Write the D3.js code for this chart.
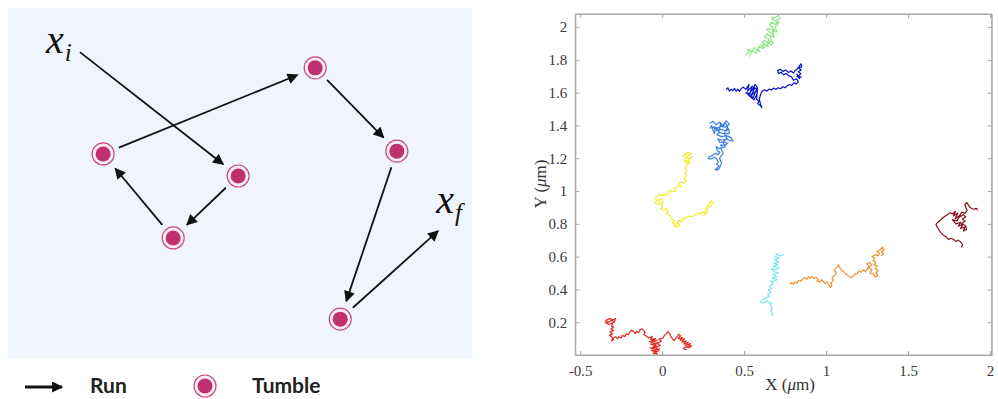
<!DOCTYPE html>
<html>
<head>
<meta charset="utf-8">
<script src="https://cdn.jsdelivr.net/npm/d3@7/dist/d3.min.js"></script>
<style>
  html, body { margin: 0; padding: 0; background: #ffffff; }
  svg { display: block; }
</style>
</head>
<body>
<svg id="fig" width="998" height="399"></svg>
<script>
// ---------- Run-and-tumble schematic (panel-relative units 0..1) ----------
const runStart = [0.155, 0.126];
const tumbleX = [0.496, 0.356, 0.205, 0.662, 0.838, 0.716];
const tumbleY = [0.480, 0.657, 0.417, 0.171, 0.409, 0.889];
const runEnd = [0.927, 0.637];
const pathLabels = [
  { base: "x", sub: "i", at: [0.082, 0.129] },
  { base: "x", sub: "f", at: [0.923, 0.586] }
];
const legendItems = ["Run", "Tumble"];

// ---------- Brownian trajectories, X/Y in µm ----------
const xTicks = [-0.5, 0, 0.5, 1, 1.5, 2];
const xTickLabels = ["-0.5", "0", "0.5", "1", "1.5", "2"];
const yTicks = [0.2, 0.4, 0.6, 0.8, 1, 1.2, 1.4, 1.6, 1.8, 2];
const yTickLabels = ["0.2", "0.4", "0.6", "0.8", "1", "1.2", "1.4", "1.6", "1.8", "2"];

const trackRed = [[-0.33,0.20],[-0.345,0.21],[-0.32,0.222],[-0.30,0.214],[-0.285,0.222],[-0.292,0.2],[-0.31,0.212],[-0.335,0.194],[-0.348,0.2],[-0.326,0.186],[-0.30,0.196],[-0.31,0.176],[-0.296,0.17],[-0.312,0.158],[-0.296,0.15],[-0.318,0.14],[-0.302,0.128],[-0.322,0.12],[-0.306,0.108],[-0.296,0.094],[-0.31,0.086],[-0.3,0.1],[-0.284,0.112],[-0.272,0.1],[-0.262,0.112],[-0.25,0.104],[-0.242,0.12],[-0.228,0.112],[-0.22,0.13],[-0.206,0.124],[-0.198,0.14],[-0.186,0.152],[-0.174,0.142],[-0.164,0.13],[-0.156,0.144],[-0.144,0.136],[-0.136,0.152],[-0.124,0.16],[-0.112,0.15],[-0.104,0.136],[-0.112,0.124],[-0.098,0.116],[-0.085,0.105],[-0.06,0.112],[-0.072,0.096],[-0.04,0.1],[-0.066,0.088],[-0.03,0.09],[-0.058,0.078],[-0.078,0.082],[-0.05,0.07],[-0.02,0.076],[-0.046,0.062],[-0.07,0.066],[-0.034,0.056],[-0.058,0.048],[-0.024,0.05],[-0.05,0.04],[-0.074,0.044],[-0.04,0.032],[-0.016,0.038],[-0.048,0.024],[-0.066,0.03],[-0.036,0.016],[-0.056,0.01],[-0.028,0.006],[-0.044,0.018],[-0.02,0.026],[-0.038,0.044],[-0.012,0.06],[-0.03,0.07],[-0.004,0.084],[-0.02,0.098],[0.004,0.102],[0.012,0.118],[0.026,0.13],[0.036,0.142],[0.046,0.13],[0.052,0.114],[0.062,0.1],[0.072,0.088],[0.09,0.11],[0.1,0.126],[0.112,0.118],[0.098,0.1],[0.124,0.106],[0.11,0.09],[0.136,0.098],[0.12,0.078],[0.146,0.086],[0.132,0.066],[0.16,0.078],[0.142,0.058],[0.172,0.07],[0.156,0.054],[0.18,0.058],[0.164,0.044],[0.144,0.05],[0.128,0.038],[0.15,0.032]];

const trackYellow = [[0.15,1.225],[0.126,1.212],[0.158,1.24],[0.176,1.228],[0.14,1.204],[0.168,1.196],[0.182,1.212],[0.16,1.182],[0.132,1.19],[0.146,1.17],[0.17,1.176],[0.15,1.156],[0.138,1.14],[0.152,1.124],[0.136,1.108],[0.148,1.09],[0.132,1.078],[0.146,1.062],[0.13,1.048],[0.112,1.056],[0.1,1.04],[0.118,1.032],[0.09,1.026],[0.072,1.018],[0.082,1.0],[0.06,0.996],[0.046,1.006],[0.04,0.984],[0.022,0.978],[0.006,0.972],[-0.012,0.978],[-0.03,0.97],[-0.042,0.956],[-0.03,0.942],[-0.044,0.93],[-0.028,0.918],[-0.012,0.93],[-0.022,0.946],[-0.006,0.952],[0.004,0.936],[-0.008,0.918],[0.004,0.904],[-0.01,0.892],[0.008,0.884],[0.024,0.892],[0.036,0.878],[0.026,0.862],[0.042,0.854],[0.052,0.84],[0.062,0.826],[0.076,0.818],[0.062,0.806],[0.084,0.796],[0.07,0.786],[0.094,0.782],[0.108,0.796],[0.088,0.808],[0.104,0.82],[0.118,0.812],[0.128,0.83],[0.146,0.838],[0.164,0.848],[0.182,0.844],[0.2,0.856],[0.218,0.866],[0.232,0.858],[0.244,0.872],[0.26,0.866],[0.272,0.878],[0.282,0.898],[0.296,0.91],[0.31,0.926],[0.3,0.94],[0.286,0.922],[0.272,0.906],[0.264,0.888],[0.276,0.872],[0.262,0.858],[0.252,0.848]];

const trackSky = [[0.29,1.412],[0.31,1.426],[0.33,1.404],[0.35,1.42],[0.37,1.4],[0.39,1.428],[0.41,1.41],[0.39,1.39],[0.36,1.396],[0.34,1.384],[0.31,1.392],[0.33,1.37],[0.36,1.376],[0.39,1.366],[0.405,1.38],[0.41,1.352],[0.38,1.348],[0.35,1.358],[0.334,1.344],[0.36,1.332],[0.39,1.338],[0.42,1.326],[0.432,1.304],[0.41,1.31],[0.386,1.316],[0.36,1.31],[0.34,1.318],[0.352,1.296],[0.378,1.3],[0.4,1.29],[0.38,1.278],[0.356,1.282],[0.368,1.264],[0.344,1.26],[0.33,1.272],[0.336,1.248],[0.352,1.236],[0.34,1.222],[0.322,1.23],[0.306,1.216],[0.288,1.21],[0.28,1.198],[0.3,1.196],[0.318,1.206],[0.334,1.194],[0.342,1.176],[0.332,1.164],[0.346,1.152],[0.336,1.14],[0.322,1.132],[0.338,1.128],[0.35,1.142],[0.362,1.17],[0.35,1.2],[0.372,1.23],[0.358,1.26],[0.384,1.27],[0.37,1.3],[0.396,1.32],[0.378,1.35],[0.4,1.39],[0.384,1.42],[0.372,1.39],[0.356,1.41],[0.346,1.36],[0.324,1.39],[0.318,1.35],[0.3,1.4],[0.292,1.38]];

const trackBlue = [[0.39,1.618],[0.4,1.63],[0.41,1.61],[0.42,1.622],[0.432,1.612],[0.44,1.626],[0.452,1.61],[0.462,1.622],[0.472,1.608],[0.482,1.624],[0.494,1.634],[0.51,1.62],[0.53,1.65],[0.52,1.61],[0.55,1.64],[0.535,1.6],[0.565,1.632],[0.548,1.59],[0.512,1.6],[0.54,1.578],[0.57,1.61],[0.556,1.57],[0.526,1.586],[0.56,1.556],[0.58,1.596],[0.574,1.626],[0.55,1.62],[0.566,1.65],[0.582,1.63],[0.576,1.56],[0.59,1.548],[0.582,1.534],[0.598,1.522],[0.608,1.508],[0.6,1.53],[0.592,1.56],[0.6,1.59],[0.61,1.61],[0.624,1.618],[0.638,1.61],[0.652,1.622],[0.666,1.616],[0.68,1.628],[0.694,1.62],[0.708,1.63],[0.722,1.624],[0.736,1.636],[0.75,1.63],[0.762,1.642],[0.776,1.65],[0.79,1.644],[0.804,1.66],[0.818,1.654],[0.83,1.666],[0.82,1.684],[0.8,1.676],[0.79,1.696],[0.77,1.704],[0.76,1.716],[0.74,1.71],[0.726,1.724],[0.71,1.718],[0.704,1.736],[0.72,1.742],[0.738,1.73],[0.752,1.738],[0.77,1.724],[0.786,1.732],[0.8,1.72],[0.812,1.736],[0.826,1.746],[0.836,1.762],[0.846,1.776],[0.852,1.758],[0.834,1.75],[0.848,1.738],[0.83,1.728],[0.846,1.716],[0.832,1.704],[0.848,1.694],[0.822,1.7],[0.838,1.686],[0.82,1.716]];

const trackGreen = [[0.51,1.83],[0.53,1.85],[0.52,1.866],[0.548,1.852],[0.56,1.876],[0.58,1.856],[0.596,1.852],[0.584,1.872],[0.6,1.89],[0.62,1.872],[0.632,1.89],[0.61,1.904],[0.626,1.92],[0.65,1.9],[0.666,1.918],[0.678,1.904],[0.664,1.89],[0.646,1.93],[0.624,1.94],[0.64,1.958],[0.668,1.94],[0.676,1.958],[0.652,1.972],[0.638,1.988],[0.664,1.99],[0.686,1.978],[0.676,2.0],[0.654,2.012],[0.666,2.03],[0.69,2.016],[0.704,2.03],[0.68,2.044],[0.668,2.06],[0.692,2.058],[0.71,2.072],[0.718,2.05],[0.7,2.044],[0.712,2.028],[0.69,2.0],[0.7,1.97],[0.672,1.976],[0.684,1.94],[0.656,1.95],[0.668,1.912],[0.64,1.91],[0.648,1.88],[0.62,1.9],[0.612,1.87],[0.59,1.88],[0.57,1.84],[0.55,1.86],[0.53,1.82]];

const trackCyan = [[0.745,0.614],[0.72,0.604],[0.7,0.616],[0.69,0.598],[0.712,0.592],[0.686,0.58],[0.71,0.568],[0.68,0.56],[0.706,0.55],[0.676,0.54],[0.714,0.532],[0.69,0.52],[0.666,0.528],[0.684,0.508],[0.71,0.5],[0.676,0.49],[0.7,0.478],[0.67,0.468],[0.702,0.46],[0.68,0.448],[0.66,0.452],[0.676,0.434],[0.656,0.42],[0.668,0.404],[0.648,0.396],[0.662,0.382],[0.644,0.37],[0.656,0.356],[0.634,0.35],[0.612,0.336],[0.6,0.324],[0.62,0.318],[0.64,0.33],[0.652,0.316],[0.668,0.322],[0.66,0.3],[0.672,0.284],[0.662,0.27],[0.674,0.256],[0.668,0.238]];

const trackOrange = [[0.78,0.43],[0.79,0.442],[0.802,0.432],[0.81,0.446],[0.824,0.44],[0.83,0.456],[0.846,0.45],[0.856,0.462],[0.87,0.472],[0.884,0.462],[0.892,0.478],[0.904,0.468],[0.914,0.48],[0.926,0.466],[0.94,0.474],[0.952,0.46],[0.944,0.45],[0.962,0.446],[0.97,0.46],[0.984,0.448],[0.994,0.436],[1.004,0.448],[1.014,0.43],[1.026,0.412],[1.036,0.426],[1.028,0.44],[1.044,0.454],[1.036,0.47],[1.052,0.486],[1.062,0.502],[1.05,0.518],[1.064,0.534],[1.076,0.55],[1.084,0.532],[1.096,0.516],[1.11,0.506],[1.122,0.492],[1.136,0.484],[1.15,0.472],[1.164,0.478],[1.174,0.492],[1.19,0.498],[1.2,0.514],[1.214,0.504],[1.228,0.52],[1.24,0.508],[1.25,0.524],[1.262,0.54],[1.248,0.556],[1.268,0.566],[1.276,0.55],[1.26,0.53],[1.28,0.52],[1.268,0.5],[1.29,0.492],[1.3,0.476],[1.316,0.484],[1.304,0.5],[1.318,0.514],[1.3,0.526],[1.312,0.542],[1.292,0.55],[1.304,0.566],[1.286,0.576],[1.296,0.592],[1.28,0.6],[1.298,0.612],[1.316,0.606],[1.326,0.622],[1.31,0.632],[1.33,0.642],[1.344,0.658],[1.354,0.64],[1.336,0.63],[1.352,0.618],[1.334,0.606]];

const trackMaroon = [[1.826,0.656],[1.832,0.674],[1.82,0.69],[1.806,0.7],[1.792,0.692],[1.778,0.704],[1.762,0.712],[1.748,0.704],[1.736,0.718],[1.722,0.726],[1.71,0.736],[1.698,0.748],[1.688,0.764],[1.678,0.78],[1.67,0.796],[1.682,0.81],[1.696,0.822],[1.71,0.834],[1.724,0.846],[1.74,0.856],[1.756,0.868],[1.77,0.86],[1.79,0.876],[1.776,0.848],[1.804,0.866],[1.786,0.83],[1.816,0.852],[1.798,0.818],[1.77,0.824],[1.792,0.8],[1.822,0.81],[1.806,0.786],[1.834,0.796],[1.82,0.772],[1.846,0.78],[1.838,0.756],[1.856,0.766],[1.85,0.79],[1.826,0.8],[1.848,0.816],[1.83,0.83],[1.852,0.842],[1.836,0.856],[1.812,0.84],[1.826,0.872],[1.846,0.864],[1.86,0.882],[1.852,0.9],[1.846,0.918],[1.858,0.93],[1.868,0.916],[1.878,0.9],[1.892,0.892],[1.904,0.89],[1.918,0.894],[1.924,0.884]];

const tracks = [
  { pts: trackRed, color: "#e52a22" },
  { pts: trackYellow, color: "#f2ec2c" },
  { pts: trackSky, color: "#3d7fe0" },
  { pts: trackBlue, color: "#0a12c8" },
  { pts: trackGreen, color: "#8fe884" },
  { pts: trackCyan, color: "#7ae6ef" },
  { pts: trackOrange, color: "#ef912f" },
  { pts: trackMaroon, color: "#85131a" }
];

const svg = d3.select("#fig");

// ===== Left: schematic =====
const sx = d3.scaleLinear().domain([0, 1]).range([8, 472]);
const sy = d3.scaleLinear().domain([0, 1]).range([8, 358]);
const left = svg.append("g");

left.append("rect")
  .attr("x", sx(0)).attr("y", sy(0))
  .attr("width", sx(1) - sx(0)).attr("height", sy(1) - sy(0))
  .attr("fill", "#eff5fb");

const defs = svg.append("defs");
defs.append("marker")
  .attr("id", "head")
  .attr("viewBox", "0 0 10 10")
  .attr("refX", 9).attr("refY", 5)
  .attr("markerUnits", "userSpaceOnUse")
  .attr("markerWidth", 12).attr("markerHeight", 11)
  .attr("orient", "auto")
  .append("path").attr("d", "M0,0 L10,5 L0,10 Z").attr("fill", "#111");

const pts = [runStart].concat(tumbleX.map((x, i) => [x, tumbleY[i]])).concat([runEnd]);
const pix = pts.map(p => [sx(p[0]), sy(p[1])]);
const gapStart = (i) => (i === 0 ? 0 : 17);
const gapEnd = (i) => (i === pix.length - 1 ? 0 : 19);
for (let i = 0; i < pix.length - 1; i++) {
  const [x0, y0] = pix[i], [x1, y1] = pix[i + 1];
  const dx = x1 - x0, dy = y1 - y0, len = Math.hypot(dx, dy);
  const ux = dx / len, uy = dy / len;
  left.append("line")
    .attr("x1", x0 + ux * gapStart(i)).attr("y1", y0 + uy * gapStart(i))
    .attr("x2", x1 - ux * gapEnd(i + 1)).attr("y2", y1 - uy * gapEnd(i + 1))
    .attr("stroke", "#111").attr("stroke-width", 1.8)
    .attr("marker-end", "url(#head)");
}

function tumble(g, x, y) {
  g.append("circle").attr("cx", x).attr("cy", y).attr("r", 11)
    .attr("fill", "#fbeef4").attr("stroke", "#c94a84").attr("stroke-width", 1.2);
  g.append("circle").attr("cx", x).attr("cy", y).attr("r", 7.5)
    .attr("fill", "#c0306e");
}
tumbleX.forEach((x, i) => tumble(left, sx(x), sy(tumbleY[i])));

pathLabels.forEach(l => {
  const t = left.append("text")
    .attr("x", sx(l.at[0])).attr("y", sy(l.at[1]))
    .attr("font-family", "'Liberation Serif', 'DejaVu Serif', serif")
    .attr("font-style", "italic").attr("font-size", 40).attr("fill", "#111");
  t.append("tspan").text(l.base);
  t.append("tspan").attr("dy", 8).attr("dx", 1).attr("font-size", 25).text(l.sub);
});

// legend
left.append("line")
  .attr("x1", 25).attr("y1", 387).attr("x2", 62).attr("y2", 387)
  .attr("stroke", "#111").attr("stroke-width", 3)
  .attr("marker-end", "url(#head)");
left.append("text").attr("x", 90).attr("y", 393)
  .attr("font-family", "Lato, 'Open Sans', sans-serif").attr("font-weight", 700)
  .attr("font-size", 21).attr("fill", "#222").text(legendItems[0]);
tumble(left, 205, 386);
left.append("text").attr("x", 252).attr("y", 393)
  .attr("font-family", "Lato, 'Open Sans', sans-serif").attr("font-weight", 700)
  .attr("font-size", 21).attr("fill", "#222").text(legendItems[1]);

// ===== Right: trajectories =====
const x = d3.scaleLinear().domain([-0.53, 2.01]).range([575.3, 991.7]);
const y = d3.scaleLinear().domain([0, 2.08]).range([355, 14]);
const right = svg.append("g");

defs.append("clipPath").attr("id", "plotclip")
  .append("rect").attr("x", x(-0.53)).attr("y", y(2.08))
  .attr("width", x(2.01) - x(-0.53)).attr("height", y(0) - y(2.08));

const line = d3.line().x(d => x(d[0])).y(d => y(d[1]));
const tg = right.append("g").attr("clip-path", "url(#plotclip)");
tracks.forEach(t => {
  tg.append("path").attr("d", line(t.pts))
    .attr("fill", "none").attr("stroke", t.color)
    .attr("stroke-width", 1.2).attr("stroke-linejoin", "round");
});

const axisColor = "#a6a6a6";
const tickFont = "'Liberation Serif', 'Times New Roman', serif";

// frame
right.append("rect")
  .attr("x", x(-0.53)).attr("y", y(2.08))
  .attr("width", x(2.01) - x(-0.53)).attr("height", y(0) - y(2.08))
  .attr("fill", "none").attr("stroke", axisColor).attr("stroke-width", 1);

const xAxis = d3.axisBottom(x).tickValues(xTicks)
  .tickFormat((d, i) => xTickLabels[i]).tickSizeInner(-4).tickSizeOuter(0).tickPadding(10);
const gx = right.append("g").attr("transform", `translate(0,${y(0)})`).call(xAxis);
const xAxisTop = d3.axisTop(x).tickValues(xTicks).tickFormat("").tickSizeInner(-4).tickSizeOuter(0);
const gxt = right.append("g").attr("transform", `translate(0,${y(2.08)})`).call(xAxisTop);

const yAxis = d3.axisLeft(y).tickValues(yTicks)
  .tickFormat((d, i) => yTickLabels[i]).tickSizeInner(-4).tickSizeOuter(0).tickPadding(8);
const gy = right.append("g").attr("transform", `translate(${x(-0.53)},0)`).call(yAxis);
const yAxisRight = d3.axisRight(y).tickValues(yTicks).tickFormat("").tickSizeInner(-4).tickSizeOuter(0);
const gyr = right.append("g").attr("transform", `translate(${x(2.01)},0)`).call(yAxisRight);

[gx, gxt, gy, gyr].forEach(g => {
  g.select(".domain").attr("stroke", axisColor);
  g.selectAll(".tick line").attr("stroke", axisColor);
  g.selectAll(".tick text").attr("fill", "#3a3a3a")
    .attr("font-family", tickFont).attr("font-size", 15);
});

right.append("text")
  .attr("x", 790).attr("y", 390).attr("text-anchor", "middle")
  .attr("font-family", tickFont).attr("font-size", 17).attr("fill", "#333")
  .call(t => {
    t.append("tspan").text("X (");
    t.append("tspan").attr("font-style", "italic").text("\u03BC");
    t.append("tspan").text("m)");
  });

right.append("text")
  .attr("transform", "translate(546,184) rotate(-90)").attr("text-anchor", "middle")
  .attr("font-family", tickFont).attr("font-size", 17).attr("fill", "#333")
  .call(t => {
    t.append("tspan").text("Y (");
    t.append("tspan").attr("font-style", "italic").text("\u03BC");
    t.append("tspan").text("m)");
  });
</script>
</body>
</html>
